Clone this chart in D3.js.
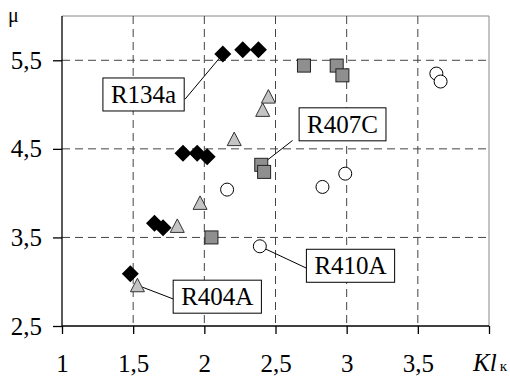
<!DOCTYPE html>
<meta charset="utf-8">
<script src="https://cdn.jsdelivr.net/npm/d3@7"></script>
<style>
body { margin: 0; background: #fff; }
.grid line { stroke: #444; stroke-dasharray: 8,5; stroke-width: 1; }
.axis path, .axis line { stroke: #000; stroke-width: 1.3; }
.lab rect { fill: #fff; stroke: #000; stroke-width: 1; }
</style>
<body>
<div class="chart"></div>
<script>

// values (x = Kl_k, y = mu)
var r134a = [[2.13, 5.57], [2.27, 5.62], [2.38, 5.62],
             [1.85, 4.45], [1.95, 4.45], [2.02, 4.41],
             [1.65, 3.66], [1.71, 3.61], [1.48, 3.09]];
var r404a = [[1.53, 2.96], [1.81, 3.63], [1.97, 3.89],
             [2.21, 4.61], [2.41, 4.94], [2.45, 5.09]];
var r407c = [[2.70, 5.44], [2.93, 5.44], [2.97, 5.33],
             [2.40, 4.32], [2.42, 4.24], [2.05, 3.50]];
var r410a = [[3.63, 5.35], [3.66, 5.26], [2.99, 4.22],
             [2.83, 4.07], [2.16, 4.04], [2.39, 3.40]];

var xTicks = [1, 1.5, 2, 2.5, 3, 3.5, 4];
var yTicks = [2.5, 3.5, 4.5, 5.5];
var xGrid = [1.5, 2, 2.5, 3, 3.5];
var yGrid = [3.5, 4.5, 5.5];

// callout boxes: name, box centre, leader start, leader target (data units)
var labels = [
  {name: "R134a", cx: 1.573, cy: 5.114, sx: 1.864, sy: 5.06, tx: 2.13, ty: 5.57},
  {name: "R407C", cx: 2.971, cy: 4.777, sx: 2.62, sy: 4.595, tx: 2.40, ty: 4.32},
  {name: "R410A", cx: 3.027, cy: 3.18, sx: 2.735, sy: 3.14, tx: 2.39, ty: 3.40},
  {name: "R404A", cx: 2.091, cy: 2.831, sx: 1.79, sy: 2.80, tx: 1.53, ty: 2.96}
];

var serif = "Liberation Serif";

var margin = {top: 16, right: 21, bottom: 51, left: 62},
    width = 510 - margin.left - margin.right,
    height = 377 - margin.top - margin.bottom;

var svg = d3.select(".chart").append("svg")
    .attr("width", 510)
    .attr("height", 377)
  .append("g")
    .attr("transform", "translate(" + margin.left + "," + margin.top + ")");

var x = d3.scaleLinear().domain([1, 4]).range([0, width]);
var y = d3.scaleLinear().domain([2.5, 6]).range([height, 0]);

function comma(d) { return String(d).replace(".", ","); }

// frame: top and right in grey
svg.append("line").attr("x1", 0).attr("x2", width).attr("y1", 0).attr("y2", 0)
    .attr("stroke", "#888").attr("stroke-width", 1);
svg.append("line").attr("x1", width).attr("x2", width).attr("y1", 0).attr("y2", height)
    .attr("stroke", "#888").attr("stroke-width", 1);

// dashed grid
var grid = svg.append("g").attr("class", "grid");
grid.selectAll(".gx").data(xGrid).enter().append("line")
    .attr("x1", x).attr("x2", x).attr("y1", 0).attr("y2", height);
grid.selectAll(".gy").data(yGrid).enter().append("line")
    .attr("x1", 0).attr("x2", width).attr("y1", y).attr("y2", y);

// axes
var xAxis = svg.append("g")
    .attr("class", "axis")
    .attr("transform", "translate(0," + height + ")")
    .call(d3.axisBottom(x).tickValues(xTicks).tickSize(8)
      .tickFormat(function(d) { return d === 4 ? "" : comma(d); }));
xAxis.attr("font-family", serif).attr("font-size", 25);
xAxis.select(".domain").attr("d", "M0,0H" + width);
xAxis.selectAll("text").attr("y", 46).attr("dy", null).attr("fill", "#000");

var yAxis = svg.append("g")
    .attr("class", "axis")
    .call(d3.axisLeft(y).tickValues(yTicks).tickSize(9).tickFormat(comma));
yAxis.attr("font-family", serif).attr("font-size", 25);
yAxis.select(".domain").attr("d", "M0," + height + "V0");
yAxis.selectAll("text").attr("x", -20).attr("fill", "#000");

// axis titles
svg.append("text").attr("x", 8 - margin.left).attr("y", 22 - margin.top)
    .attr("font-family", serif).attr("font-size", 20).text("μ");
var kl = svg.append("text").attr("x", 473 - margin.left).attr("y", 371 - margin.top)
    .attr("font-family", serif);
kl.append("tspan").attr("font-size", 25).attr("font-style", "italic").text("Kl");
kl.append("tspan").attr("font-size", 15).attr("dx", 3).text("к");

// leader lines
svg.selectAll(".leader").data(labels).enter().append("line")
    .attr("stroke", "#000").attr("stroke-width", 1)
    .attr("x1", function(d) { return x(d.sx); })
    .attr("y1", function(d) { return y(d.sy); })
    .attr("x2", function(d) { return x(d.tx); })
    .attr("y2", function(d) { return y(d.ty); });

// markers
svg.selectAll(".dia").data(r134a).enter().append("path")
    .attr("d", "M0,-8.5L8.5,0L0,8.5L-8.5,0Z")
    .attr("fill", "#000")
    .attr("transform", function(d) { return "translate(" + x(d[0]) + "," + y(d[1]) + ")"; });

svg.selectAll(".tri").data(r404a).enter().append("path")
    .attr("d", "M0,-7L7,6.5L-7,6.5Z")
    .attr("fill", "#c4c4c4").attr("stroke", "#333").attr("stroke-width", 1)
    .attr("transform", function(d) { return "translate(" + x(d[0]) + "," + y(d[1]) + ")"; });

svg.selectAll(".sq").data(r407c).enter().append("rect")
    .attr("x", function(d) { return x(d[0]) - 6.5; })
    .attr("y", function(d) { return y(d[1]) - 6.5; })
    .attr("width", 13).attr("height", 13)
    .attr("fill", "#8f8f8f").attr("stroke", "#222").attr("stroke-width", 1);

svg.selectAll(".ci").data(r410a).enter().append("circle")
    .attr("cx", function(d) { return x(d[0]); })
    .attr("cy", function(d) { return y(d[1]); })
    .attr("r", 6.5)
    .attr("fill", "#fff").attr("stroke", "#000").attr("stroke-width", 1);

// callout boxes
var lab = svg.selectAll(".lab").data(labels).enter().append("g")
    .attr("class", "lab")
    .attr("transform", function(d) { return "translate(" + x(d.cx) + "," + y(d.cy) + ")"; });
lab.append("rect");
lab.append("text")
    .attr("font-family", serif)
    .attr("font-size", 25)
    .attr("text-anchor", "middle")
    .attr("dy", "0.33em")
    .text(function(d) { return d.name; });
lab.each(function() {
  var g = d3.select(this),
      b = g.select("text").node().getBBox();
  g.select("rect")
    .attr("x", -b.width / 2 - 8).attr("y", -16.5)
    .attr("width", b.width + 16).attr("height", 33);
});

</script>
</body>
</html>
